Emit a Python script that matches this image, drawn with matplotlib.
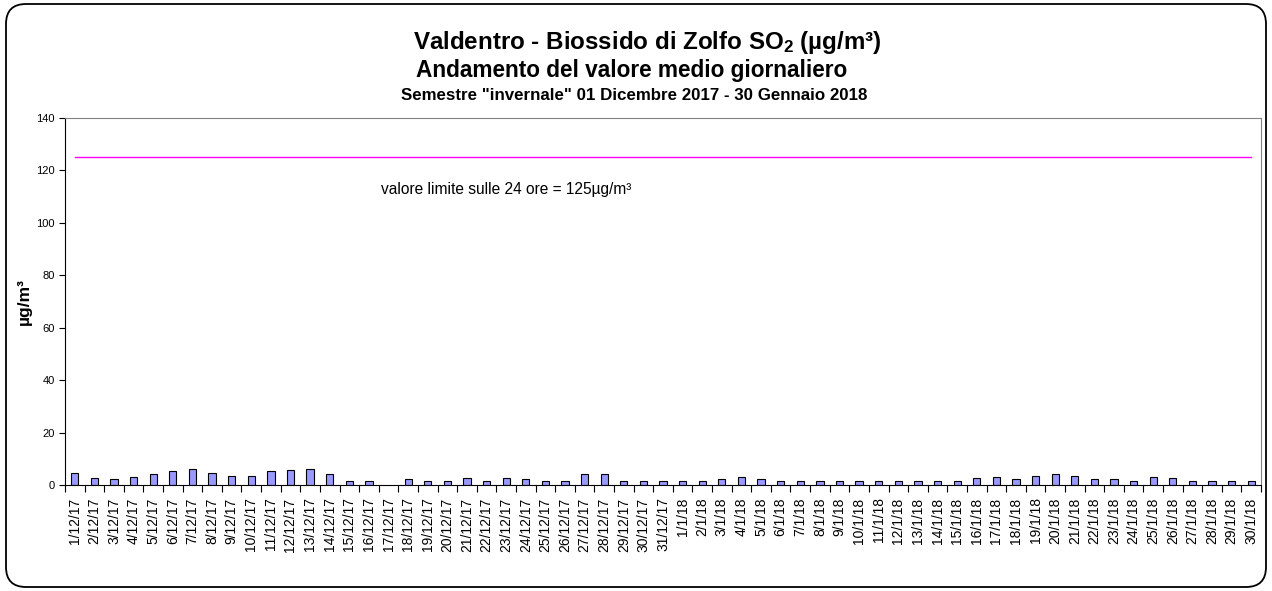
import numpy as np
import matplotlib
matplotlib.use("Agg")
import matplotlib.pyplot as plt
from matplotlib.patches import FancyBboxPatch
from matplotlib.transforms import IdentityTransform

plt.rcParams['font.family'] = ['Liberation Sans', 'DejaVu Sans']
plt.rcParams['mathtext.fontset'] = 'custom'
plt.rcParams['mathtext.rm'] = 'Liberation Sans'
plt.rcParams['mathtext.bf'] = 'Liberation Sans:bold'

# daily labels 1/12/17 .. 30/1/18
dates = ["%d/12/17" % d for d in range(1, 32)] + ["%d/1/18" % d for d in range(1, 31)]

# daily mean SO2 (µg/m3), 17/12/17 missing
so2 = [4.5, 2.5, 2.2, 3.0, 4.1, 5.3, 6.2, 4.5, 3.6, 3.6,
       5.3, 5.8, 6.2, 4.1, 1.6, 1.6, np.nan, 2.2, 1.6, 1.6,
       2.5, 1.6, 2.5, 2.2, 1.6, 1.6, 4.1, 4.1, 1.6, 1.6,
       1.6, 1.6, 1.6, 2.2, 3.0, 2.2, 1.6, 1.6, 1.6, 1.6,
       1.6, 1.6, 1.6, 1.6, 1.6, 1.6, 2.5, 3.0, 2.2, 3.6,
       4.1, 3.6, 2.2, 2.2, 1.6, 3.0, 2.5, 1.6, 1.6, 1.6,
       1.6]
limit = 125

x = np.arange(len(dates))

fig = plt.figure(figsize=(12.72, 5.91), dpi=100)
ax = fig.add_axes([0.0511, 0.1794, 0.9403, 0.6209])

ax.bar(x, so2, width=0.37, color='#9999ff', edgecolor='black', linewidth=0.8, zorder=2)
ax.plot(x, [limit] * len(x), color='#ff00ff', linewidth=1.0, zorder=3)

ax.set_xlim(-0.5, len(dates) - 0.5)
ax.set_ylim(0, 140)
ax.set_yticks(range(0, 141, 20))
ax.tick_params(axis='y', labelsize=8, direction='out', length=4, width=0.8)

ax.set_xticks(x)
ax.set_xticklabels(dates, rotation=90, fontsize=10)
ax.tick_params(axis='x', which='major', length=0, pad=9)
ax.set_xticks(np.arange(-0.5, len(dates), 1), minor=True)
ax.tick_params(axis='x', which='minor', length=5, width=0.8, direction='out')

for s in ['top', 'right']:
    ax.spines[s].set_color('#808080')
for s in ['left', 'bottom']:
    ax.spines[s].set_color('black')

ax.set_ylabel('µg/m³', fontsize=12.5, fontweight='bold', labelpad=3)

ax.text(0.264, 0.804, 'valore limite sulle 24 ore = 125µg/m³', transform=ax.transAxes,
        fontsize=11.2, va='center', ha='left')

fig.text(647 / 1272, 1 - 42 / 591, r'Valdentro - Biossido di Zolfo $\mathbf{SO_2}$ (µg/m³)',
         ha='center', va='center', fontsize=17.4, fontweight='bold')
fig.text(632 / 1272, 1 - 70.5 / 591, 'Andamento del valore medio giornaliero',
         ha='center', va='center', fontsize=16.3, fontweight='bold')
fig.text(634 / 1272, 1 - 96 / 591, 'Semestre "invernale" 01 Dicembre 2017 - 30 Gennaio 2018',
         ha='center', va='center', fontsize=12.2, fontweight='bold')

box = FancyBboxPatch((6, 4), 1260, 583, boxstyle="round,pad=0,rounding_size=20",
                     transform=IdentityTransform(), facecolor='none', edgecolor='black',
                     linewidth=1.3)
fig.patches.append(box)

fig.savefig('out.png', dpi=100)
plt.close(fig)
